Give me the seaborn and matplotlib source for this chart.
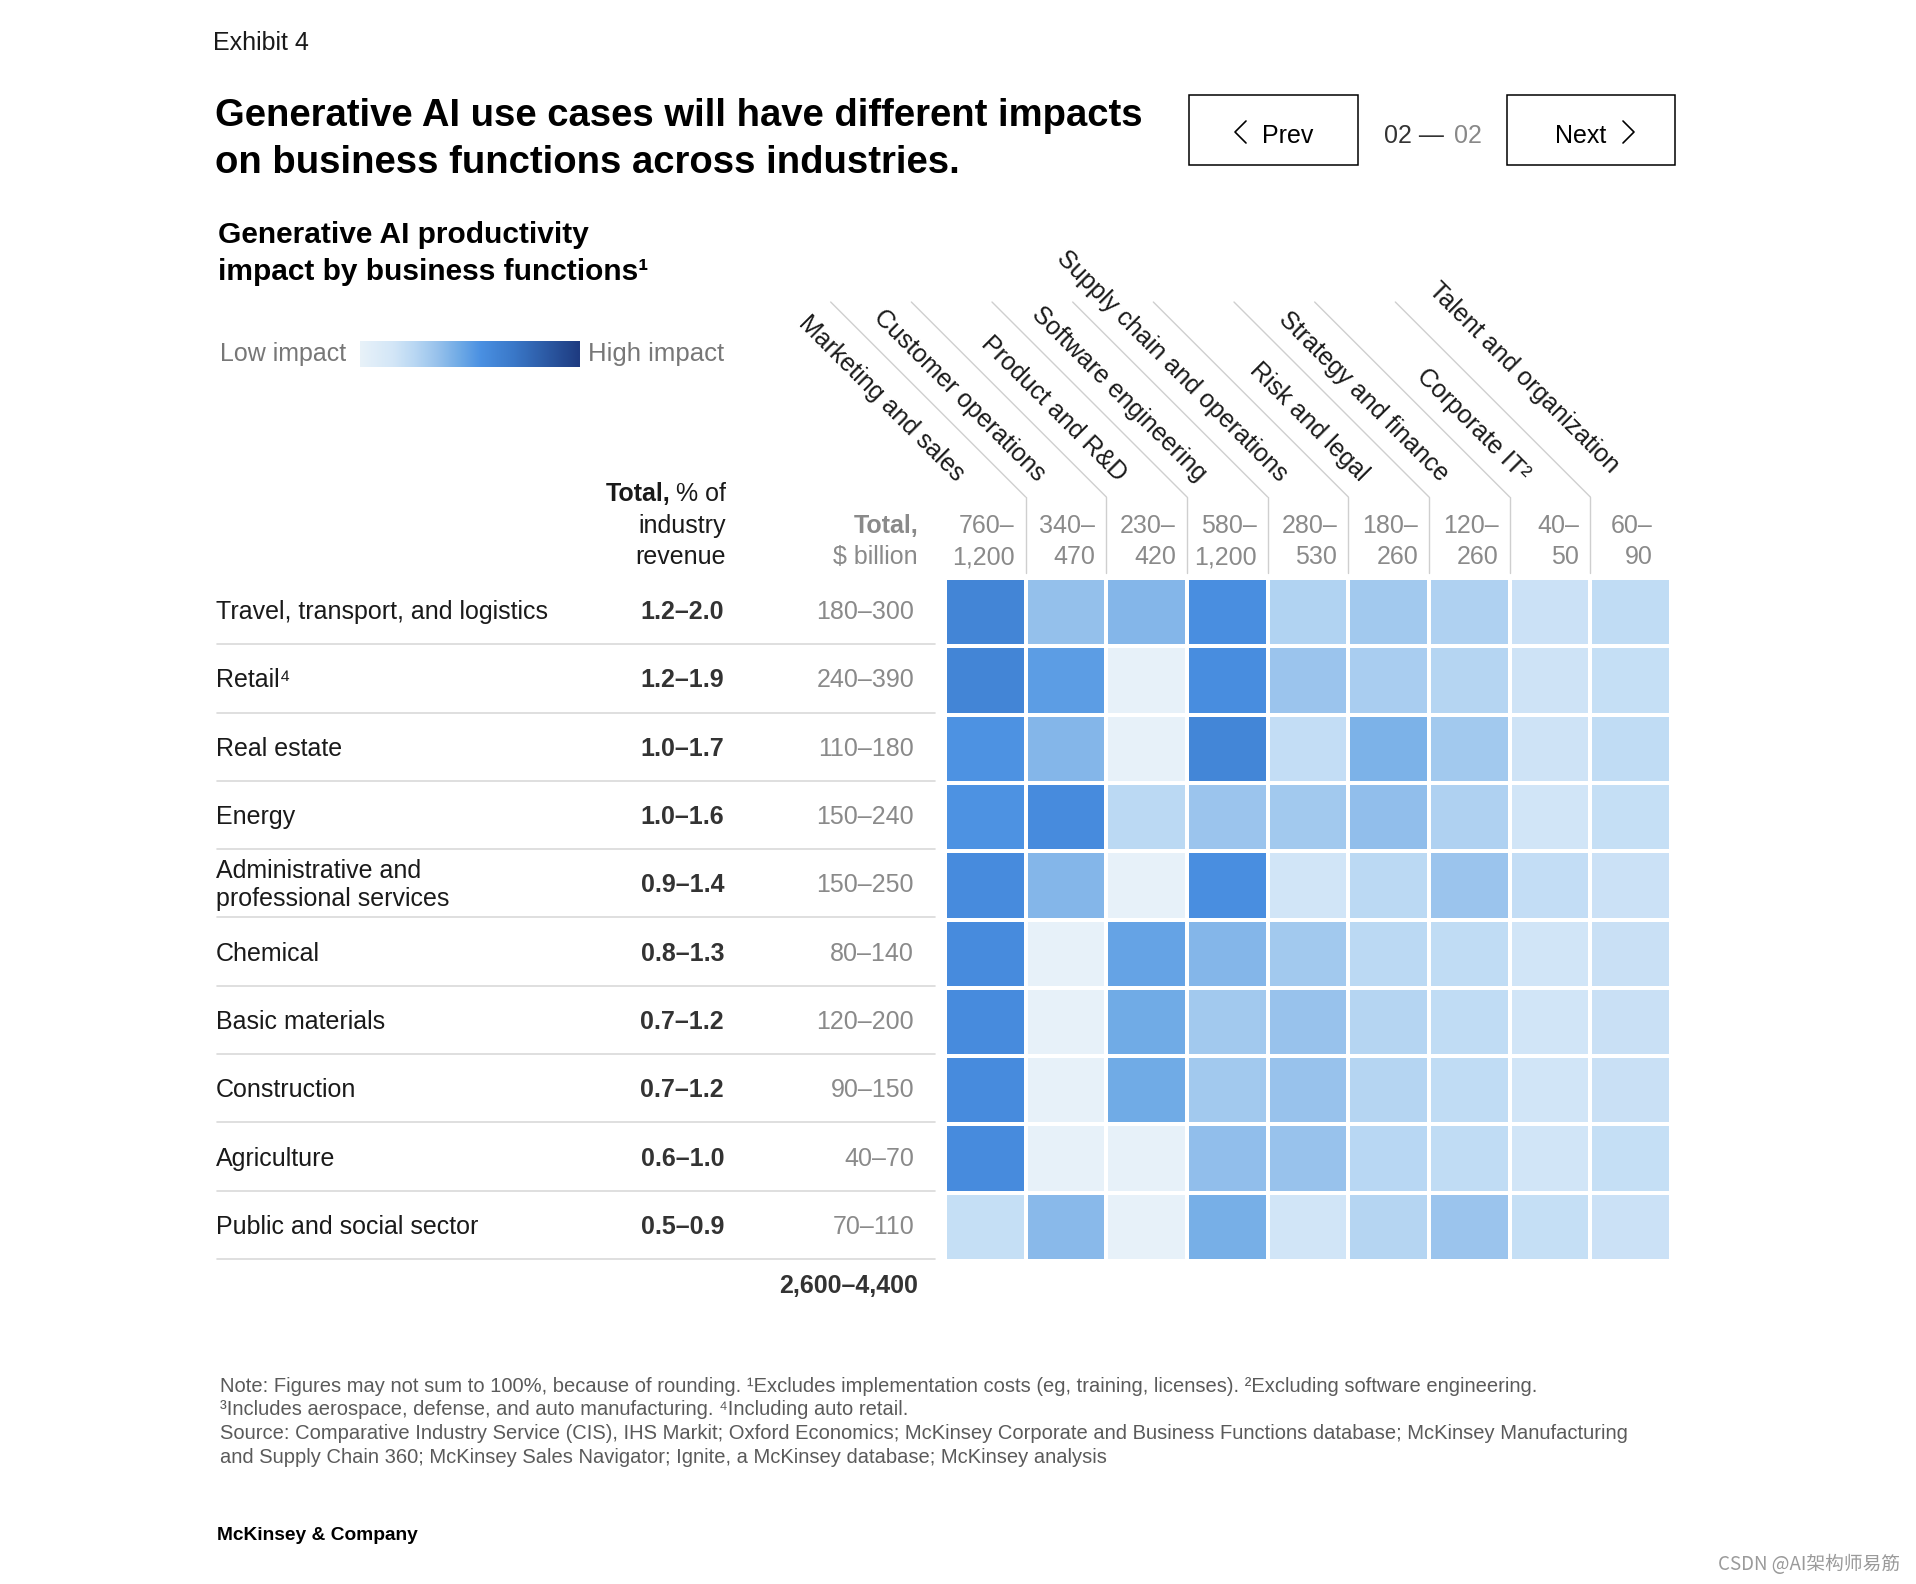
import numpy as np
import pandas as pd
import seaborn as sns
import matplotlib
matplotlib.use("Agg")
import matplotlib.pyplot as plt
from matplotlib.colors import LinearSegmentedColormap
from matplotlib.transforms import blended_transform_factory
from matplotlib.lines import Line2D
from matplotlib.patches import Rectangle

# ---------------- data ----------------
industries = ["Travel, transport, and logistics", "Retail\u2074", "Real estate", "Energy",
              "Administrative and\nprofessional services", "Chemical", "Basic materials",
              "Construction", "Agriculture", "Public and social sector"]
pct_of_revenue = ["1.2\u20132.0", "1.2\u20131.9", "1.0\u20131.7", "1.0\u20131.6", "0.9\u20131.4",
                  "0.8\u20131.3", "0.7\u20131.2", "0.7\u20131.2", "0.6\u20131.0", "0.5\u20130.9"]
usd_billion = ["180\u2013300", "240\u2013390", "110\u2013180", "150\u2013240", "150\u2013250",
               "80\u2013140", "120\u2013200", "90\u2013150", "40\u201370", "70\u2013110"]
grand_total = "2,600\u20134,400"

functions = ["Marketing and sales", "Customer operations", "Product and R&D",
             "Software engineering", "Supply chain and operations", "Risk and legal",
             "Strategy and finance", "Corporate IT\u00b2", "Talent and organization"]
function_total_low = ["760\u2013", "340\u2013", "230\u2013", "580\u2013", "280\u2013",
                      "180\u2013", "120\u2013", "40\u2013", "60\u2013"]
function_total_high = ["1,200", "470", "420", "1,200", "530", "260", "260", "50", "90"]

# impact intensity (0 = low, 1 = high), one list per industry
impact_travel = [0.62, 0.36, 0.40, 0.56, 0.27, 0.32, 0.28, 0.18, 0.22]
impact_retail = [0.62, 0.50, 0.01, 0.57, 0.34, 0.30, 0.26, 0.17, 0.20]
impact_real_estate = [0.54, 0.40, 0.01, 0.61, 0.21, 0.42, 0.32, 0.17, 0.22]
impact_energy = [0.54, 0.58, 0.24, 0.34, 0.32, 0.37, 0.28, 0.16, 0.20]
impact_admin = [0.58, 0.40, 0.01, 0.56, 0.16, 0.24, 0.34, 0.21, 0.18]
impact_chemical = [0.58, 0.01, 0.48, 0.40, 0.32, 0.24, 0.22, 0.16, 0.19]
impact_basic = [0.58, 0.01, 0.45, 0.32, 0.35, 0.26, 0.22, 0.16, 0.19]
impact_construction = [0.58, 0.01, 0.45, 0.32, 0.35, 0.26, 0.22, 0.16, 0.19]
impact_agriculture = [0.58, 0.01, 0.01, 0.37, 0.35, 0.25, 0.22, 0.16, 0.20]
impact_public = [0.20, 0.39, 0.01, 0.43, 0.16, 0.26, 0.34, 0.20, 0.18]

impact = pd.DataFrame([impact_travel, impact_retail, impact_real_estate, impact_energy,
                       impact_admin, impact_chemical, impact_basic, impact_construction,
                       impact_agriculture, impact_public],
                      index=industries, columns=functions)

# ---------------- style ----------------
sns.set_theme(style="white")
plt.rcParams["font.family"] = ["Liberation Sans", "DejaVu Sans"]

cmap = LinearSegmentedColormap.from_list("impact", [
    (0.00, "#e8f2f9"), (0.15, "#d3e6f7"), (0.25, "#b8d7f3"), (0.35, "#98c2ec"),
    (0.45, "#70abe6"), (0.55, "#4a90e2"), (0.70, "#3a78c8"), (1.00, "#1e3b80")])

W, H = 1916, 1584
fig = plt.figure(figsize=(W / 100, H / 100), dpi=100)
fig.patch.set_facecolor("white")


def fx(x):
    return x / W


def fy(y):
    return 1 - y / H


BLACK = "#1a1a1a"
DARK = "#333333"
GRAY = "#8a8a8a"
LINE = "#d9d9d9"
BODY = 18

# ---------------- heatmap ----------------
hx0, hx1, hy0, hy1 = 945, 1671, 578, 1261
ax = fig.add_axes([fx(hx0), fy(hy1), (hx1 - hx0) / W, (hy1 - hy0) / H])
sns.heatmap(impact, ax=ax, cmap=cmap, vmin=0, vmax=1, cbar=False,
            linewidths=2.8, linecolor="white", xticklabels=False, yticklabels=False)
ax.set_xlabel("")
ax.set_ylabel("")
ax.tick_params(left=False, bottom=False)

rowtr = blended_transform_factory(fig.transFigure, ax.transData)
for i, name in enumerate(industries):
    yc = i + 0.5
    ax.text(fx(216), yc, name, transform=rowtr, ha="left", va="center",
            fontsize=BODY, color=BLACK, linespacing=1.2, clip_on=False)
    ax.text(fx(724), yc, pct_of_revenue[i], transform=rowtr, ha="right", va="center",
            fontsize=BODY, color=DARK, fontweight="bold", clip_on=False)
    ax.text(fx(914), yc, usd_billion[i], transform=rowtr, ha="right", va="center",
            fontsize=BODY, color=GRAY, clip_on=False)
    ax.plot([fx(217), fx(935)], [i + 0.97, i + 0.97], transform=rowtr, color=LINE,
            lw=1.2, clip_on=False)
ax.text(fx(918), len(industries) + 0.36, grand_total, transform=rowtr, ha="right",
        va="center", fontsize=BODY, color=DARK, fontweight="bold", clip_on=False)

# ---------------- column headers ----------------
fig.canvas.draw()
inv = 1 / np.sqrt(2)
n_fn = len(functions)
for j, fn in enumerate(functions):
    xb = ax.transData.transform((j + 1, 0))[0]  # right boundary of column, pixels
    pad = 18 if j == n_fn - 1 else 11
    fig.text(fx(xb - pad), fy(526), function_total_low[j], ha="right", va="center",
             fontsize=BODY, color=GRAY)
    fig.text(fx(xb - pad), fy(557), function_total_high[j], ha="right", va="center",
             fontsize=BODY, color=GRAY)
    # rotated label
    s, g = (59, 8) if j == n_fn - 1 else (60, 20)
    axp = xb - (s + g) * inv
    ayp = 497 - (s - g) * inv
    fig.text(fx(axp), fy(ayp), fn, rotation=-45, rotation_mode="anchor",
             ha="right", va="top", fontsize=BODY, color=BLACK)
    # separator lines
    if j < n_fn - 1:
        fig.add_artist(Line2D([fx(xb), fx(xb)], [fy(497), fy(573)], color="#cfcfcf", lw=1.0))
        fig.add_artist(Line2D([fx(xb - 195), fx(xb)], [fy(302), fy(497)], color="#cfcfcf", lw=1.0))

# ---------------- left headers ----------------
r = fig.canvas.get_renderer()
t_pct = fig.text(fx(726), fy(494), "% of", ha="right", va="center", fontsize=BODY, color=BLACK)
bb = t_pct.get_window_extent(r)
fig.text(fx(bb.x0 - 6), fy(494), "Total,", ha="right", va="center", fontsize=BODY,
         color=BLACK, fontweight="bold")
fig.text(fx(726), fy(526), "industry", ha="right", va="center", fontsize=BODY, color=BLACK)
fig.text(fx(726), fy(557), "revenue", ha="right", va="center", fontsize=BODY, color=BLACK)
fig.text(fx(918), fy(526), "Total,", ha="right", va="center", fontsize=BODY, color=GRAY,
         fontweight="bold")
fig.text(fx(918), fy(557), "$ billion", ha="right", va="center", fontsize=BODY, color=GRAY)

# ---------------- titles ----------------
fig.text(fx(213), fy(43), "Exhibit 4", ha="left", va="center", fontsize=18, color=BLACK)
fig.text(fx(215), fy(116), "Generative AI use cases will have different impacts",
         ha="left", va="center", fontsize=27.5, fontweight="bold", color="black")
fig.text(fx(215), fy(163), "on business functions across industries.",
         ha="left", va="center", fontsize=27.5, fontweight="bold", color="black")
fig.text(fx(218), fy(235), "Generative AI productivity", ha="left", va="center",
         fontsize=21.5, fontweight="bold", color="black")
fig.text(fx(218), fy(272), "impact by business functions\u00b9", ha="left", va="center",
         fontsize=21.5, fontweight="bold", color="black")

# ---------------- legend ----------------
fig.text(fx(220), fy(354), "Low impact", ha="left", va="center", fontsize=BODY, color="#777777")
fig.text(fx(588), fy(354), "High impact", ha="left", va="center", fontsize=18.5, color="#777777")
lax = fig.add_axes([fx(360), fy(367), 220 / W, 26 / H])
lax.imshow(np.linspace(0, 1, 256)[None, :], cmap=cmap, aspect="auto")
lax.set_axis_off()

# ---------------- navigation buttons ----------------
for (bx0, bx1) in [(1189, 1358), (1507, 1675)]:
    fig.add_artist(Rectangle((fx(bx0), fy(165)), (bx1 - bx0) / W, 70 / H,
                             fill=False, edgecolor="black", lw=1.1,
                             transform=fig.transFigure))
fig.add_artist(Line2D([fx(1246), fx(1235), fx(1246)], [fy(121), fy(132), fy(143)],
                      color="black", lw=1.2))
fig.text(fx(1262), fy(136), "Prev", ha="left", va="center", fontsize=18, color="black")
fig.add_artist(Line2D([fx(1623), fx(1634), fx(1623)], [fy(121), fy(132), fy(143)],
                      color="black", lw=1.2))
fig.text(fx(1606), fy(136), "Next", ha="right", va="center", fontsize=18, color="black")
fig.text(fx(1384), fy(136), "02 \u2014", ha="left", va="center", fontsize=18, color="#333333")
fig.text(fx(1482), fy(136), "02", ha="right", va="center", fontsize=18, color="#888888")

# ---------------- footnotes ----------------
notes = [
    "Note: Figures may not sum to 100%, because of rounding. \u00b9Excludes implementation costs (eg, training, licenses). \u00b2Excluding software engineering.",
    "\u00b3Includes aerospace, defense, and auto manufacturing. \u2074Including auto retail.",
    "Source: Comparative Industry Service (CIS), IHS Markit; Oxford Economics; McKinsey Corporate and Business Functions database; McKinsey Manufacturing",
    "and Supply Chain 360; McKinsey Sales Navigator; Ignite, a McKinsey database; McKinsey analysis",
]
for k, line in enumerate(notes):
    fig.text(fx(220), fy(1386 + 23.7 * k), line, ha="left", va="center",
             fontsize=14.5, color="#5a5a5a")
fig.text(fx(217), fy(1536), "McKinsey & Company", ha="left", va="center",
         fontsize=13.8, color="black", fontweight="bold")
fig.text(fx(1900), fy(1565), "CSDN @AI架构师易筋", ha="right", va="center", fontsize=13.5,
         color="#9a9a9a", family=["Noto Sans CJK SC", "DejaVu Sans"])

fig.savefig("out.png", dpi=100, facecolor="white")
